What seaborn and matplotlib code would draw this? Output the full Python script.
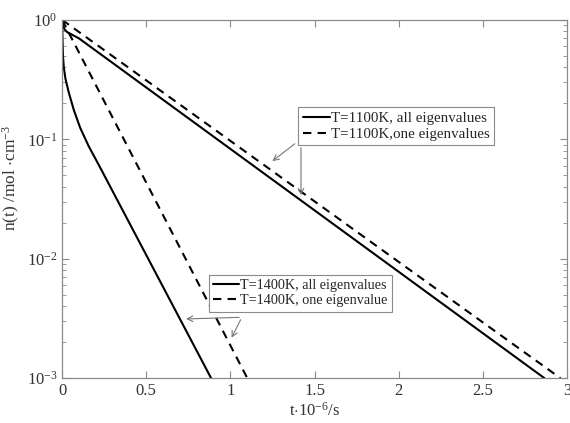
import pandas as pd
import matplotlib
matplotlib.use("Agg")
import matplotlib.pyplot as plt
import seaborn as sns

# стиль графика
sns.set_style("ticks")
plt.rcParams['font.family'] = ['Liberation Serif', 'DejaVu Serif']
plt.rcParams['mathtext.fontset'] = 'custom'
plt.rcParams['mathtext.rm'] = 'Liberation Serif'
plt.rcParams['mathtext.it'] = 'Liberation Serif:italic'

# данные, t в 1e-6 s
t_1100_all = [0.0, 0.005, 0.015, 0.03, 0.06, 0.1, 2.865]
n_1100_all = [1.0, 0.9, 0.83, 0.79, 0.75, 0.70, 0.001]

t_1100_one = [0.0, 2.96]
n_1100_one = [1.0, 0.001]

t_1400_all = [0.0, 0.002, 0.005, 0.01, 0.02, 0.04, 0.07, 0.107, 0.157, 0.226, 0.885]
n_1400_all = [1.0, 0.7, 0.5, 0.4, 0.32, 0.245, 0.175, 0.125, 0.088, 0.058, 0.001]

t_1400_one = [0.0, 1.1]
n_1400_one = [1.0, 0.001]

labels_1100 = ['T=1100K, all eigenvalues', 'T=1100K,one eigenvalues']
labels_1400 = ['T=1400K, all eigenvalues', 'T=1400K, one eigenvalue']

x_ticks = [0, 0.5, 1, 1.5, 2, 2.5, 3]

fig = plt.figure(figsize=(5.7, 4.23), dpi=100)
ax = fig.add_axes([0.109, 0.106, 0.886, 0.847])

dash = (4, 3)
lw = 1.5
sns.lineplot(x=t_1100_all, y=n_1100_all, ax=ax, color='black', lw=lw)
sns.lineplot(x=t_1100_one, y=n_1100_one, ax=ax, color='black', lw=lw)
ax.lines[-1].set_dashes(dash)
sns.lineplot(x=t_1400_all, y=n_1400_all, ax=ax, color='black', lw=lw)
sns.lineplot(x=t_1400_one, y=n_1400_one, ax=ax, color='black', lw=lw)
ax.lines[-1].set_dashes(dash)
h = ax.lines

ax.set_yscale('log')
ax.set_xlim(0, 3)
ax.set_ylim(1e-3, 1)
ax.set_xticks(x_ticks)
ax.set_xticklabels([f'{v:g}' for v in x_ticks])

gray = '#8a8a8a'
for s in ax.spines.values():
    s.set_color(gray)
    s.set_linewidth(0.9)
ax.tick_params(which='both', direction='in', top=True, right=True, color=gray,
               labelsize=12, labelcolor='#333333')
ax.tick_params(which='major', length=5)
ax.tick_params(which='minor', length=3)

ax.set_xlabel(r't$\cdot$10$^{-6}$/s', fontsize=12, color='#333333', labelpad=2)
ax.set_ylabel(r'n(t) /mol $\cdot$cm$^{-3}$', fontsize=12.5, color='#333333')
ax.yaxis.set_label_coords(-0.08, 0.56)

leg_kw = dict(loc='upper left', bbox_transform=fig.transFigure, borderaxespad=0,
              handlelength=1.8, handletextpad=0.1, borderpad=0.3,
              labelspacing=0.15, fancybox=False, framealpha=1, edgecolor=gray)
leg1 = ax.legend([h[0], h[1]], labels_1100, bbox_to_anchor=(0.523, 0.747),
                 fontsize=10.8, **leg_kw)
leg1.get_frame().set_linewidth(0.8)
ax.add_artist(leg1)
leg2 = ax.legend([h[2], h[3]], labels_1400, bbox_to_anchor=(0.367, 0.350),
                 fontsize=10.2, **leg_kw)
leg2.get_frame().set_linewidth(0.8)

# стрелки от легенд к линиям
arr = dict(arrowstyle='->', color='#777777', lw=0.8)
ax.annotate('', xy=(0.412, 0.601), xytext=(0.465, 0.659), xycoords='axes fraction', arrowprops=arr)
ax.annotate('', xy=(0.473, 0.503), xytext=(0.473, 0.651), xycoords='axes fraction', arrowprops=arr)
ax.annotate('', xy=(0.240, 0.165), xytext=(0.356, 0.170), xycoords='axes fraction', arrowprops=arr)
ax.annotate('', xy=(0.333, 0.106), xytext=(0.356, 0.170), xycoords='axes fraction', arrowprops=arr)

fig.savefig('out.png', dpi=100)
